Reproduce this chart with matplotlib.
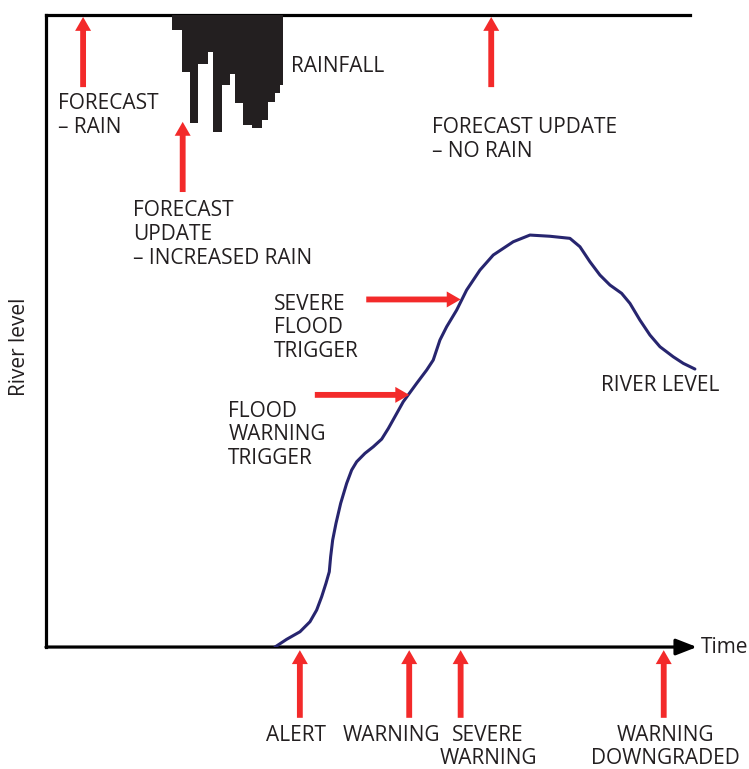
# Flood warning timeline – schematic of rainfall, river level and warnings
import numpy as np
import matplotlib
matplotlib.use("Agg")
import matplotlib.pyplot as plt

plt.rcParams["font.family"] = ["Open Sans", "DejaVu Sans"]

# ─────────────────────────────────────────────────────────────────────────────
# DATA (time and river level on a 0–100 schematic scale)
# ─────────────────────────────────────────────────────────────────────────────

# rainfall hyetograph: bin edges along time, depth of each bin
rain_edges = [19.35, 20.9, 22.1, 23.35, 24.9, 25.65, 27.0, 28.25, 29.0,
              30.25, 31.65, 33.2, 34.1, 35.2, 35.95, 36.4]
rain_depth = [2.4, 9.0, 17.1, 7.8, 5.9, 18.5, 11.1, 9.3, 13.9,
              17.4, 17.9, 16.6, 13.8, 12.3, 11.1]

# river level hydrograph
river_time = [35.18, 36.97, 39.02, 40.55, 41.58, 42.35, 43.01, 43.52, 43.73,
              44.04, 44.55, 45.27, 46.19, 46.96, 47.73, 49.0, 50.28, 51.57,
              52.6, 54.88, 56.94, 58.48, 59.49, 60.52, 61.55, 63.09, 64.62,
              66.67, 68.71, 71.78, 74.35, 77.42, 80.49, 82.03, 83.56, 85.10,
              86.64, 88.43, 89.71, 91.24, 92.78, 94.32, 96.36, 97.90, 99.69]
river_level = [0.0, 1.22, 2.42, 4.00, 5.85, 7.96, 10.08, 11.91, 14.29,
               16.93, 19.57, 22.74, 25.90, 28.01, 29.32, 30.65, 31.69, 32.9,
               34.6, 38.81, 41.72, 43.83, 45.41, 48.58, 50.68, 53.32, 56.49,
               59.65, 62.03, 64.13, 65.19, 65.0, 64.67, 63.34, 60.97, 58.86,
               57.28, 55.97, 54.38, 51.74, 49.37, 47.52, 45.93, 44.89, 43.99]

# forecasts issued (time, label)
forecast_time = [5.7, 21.0, 68.4]
forecast_labels = ["FORECAST\n– RAIN", "FORECAST\nUPDATE\n– INCREASED RAIN",
                   "FORECAST UPDATE\n– NO RAIN"]

# warning triggers on the river level
trigger_level = [39.9, 55.0]
trigger_labels = ["FLOOD\nWARNING\nTRIGGER", "SEVERE\nFLOOD\nTRIGGER"]

# warnings issued along the time axis
event_time = [39.0, 55.8, 63.7, 94.9]
event_labels = ["ALERT", "WARNING", "SEVERE\nWARNING", "WARNING\nDOWNGRADED"]

RED = "#f32a2a"
INK = "#231f20"
NAVY = "#27256f"
FS = 15
LSP = 1.17

# ─────────────────────────────────────────────────────────────────────────────
# FIGURE
# ─────────────────────────────────────────────────────────────────────────────

fig = plt.figure(figsize=(7.49, 7.69), dpi=100)
ax = fig.add_axes([0.0614, 0.1586, 0.9386, 0.8218])
ax.set_xlim(0, 108)
ax.set_ylim(0, 100)
ax.set_xticks([])
ax.set_yticks([])
for side in ["right", "bottom"]:
    ax.spines[side].set_visible(False)
ax.spines["left"].set_linewidth(2.3)
ax.spines["top"].set_linewidth(2.3)
ax.spines["top"].set_bounds(0, 98.9)

# time axis with arrow head
ax.annotate("", xy=(100.0, 0), xytext=(0, 0),
            arrowprops=dict(arrowstyle="-|>,head_length=0.9,head_width=0.35",
                            lw=2.3, color="black", shrinkA=0, shrinkB=0,
                            mutation_scale=14))
ax.text(100.6, 0, "Time", fontsize=FS, color=INK, va="center", ha="left")
ax.text(-4.0, 47.5, "River level", fontsize=15, color=INK, rotation=90,
        va="center", ha="center")

# rainfall hangs from the top line
ax_rain = ax.twinx()
ax_rain.set_ylim(100, 0)
ax_rain.axis("off")
ax_rain.bar(rain_edges[:-1], rain_depth, width=np.diff(rain_edges),
            align="edge", color=INK, linewidth=0)
ax.text(37.6, 93.6, "RAINFALL", fontsize=FS, color=INK, va="top")

# river level
ax.plot(river_time, river_level, color=NAVY, lw=2.2, solid_capstyle="round",
        solid_joinstyle="round", zorder=3)
ax.text(85.3, 43.0, "RIVER LEVEL", fontsize=FS, color=INK, va="top")

arrow_style = "simple,head_width=1.15,head_length=1.0,tail_width=0.42"


def red_arrow(tip, tail):
    ax.annotate("", xy=tip, xytext=tail, annotation_clip=False,
                arrowprops=dict(arrowstyle=arrow_style, color=RED, lw=0,
                                shrinkA=0, shrinkB=0, mutation_scale=10))


# forecasts
forecast_tip = [99.7, 83.1, 99.7]
forecast_text = [(1.8, 87.6), (13.4, 70.7), (59.3, 83.8)]
for t, tip, (tx, ty), lab in zip(forecast_time, forecast_tip,
                                 forecast_text, forecast_labels):
    red_arrow((t, tip), (t, tip - 11.1))
    ax.text(tx, ty, lab, fontsize=FS, color=INK, va="top", ha="left",
            linespacing=LSP)

# triggers
trigger_time = [event_time[1], event_time[2]]
trigger_tail = [41.3, 49.2]
trigger_text = [(28.0, 39.0), (35.0, 55.9)]
for t, lvl, tail, (tx, ty), lab in zip(trigger_time, trigger_level,
                                       trigger_tail, trigger_text,
                                       trigger_labels):
    red_arrow((t, lvl), (tail, lvl))
    ax.text(tx, ty, lab, fontsize=FS, color=INK, va="top", ha="left",
            linespacing=LSP)

# warnings issued
label_x = [38.4, 53.1, 67.9, 95.1]
for t, lx, lab in zip(event_time, label_x, event_labels):
    red_arrow((t, -0.5), (t, -11.2))
    ax.text(lx, -12.4, lab, fontsize=FS, color=INK, va="top", ha="center",
            linespacing=1.08)

fig.savefig("out.png", dpi=100)
